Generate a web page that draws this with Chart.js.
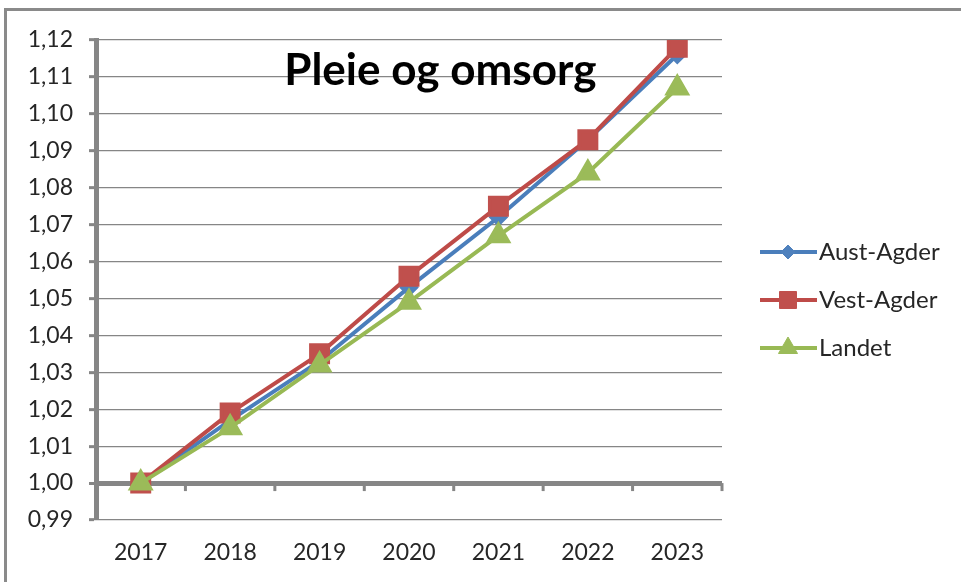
<!DOCTYPE html>
<html>
<head>
<meta charset="utf-8">
<script src="https://cdn.jsdelivr.net/npm/chart.js@4/dist/chart.umd.min.js"></script>
<style>
  html, body { margin: 0; padding: 0; background: #fff; }
  #wrap { position: relative; width: 961px; height: 582px; }
  #frame {
    position: absolute; left: 4px; top: 8px; right: 0; bottom: 0;
    border-top: 3px solid #8a8a8a; border-left: 3px solid #8a8a8a;
    pointer-events: none;
  }
  canvas { position: absolute; left: 0; top: 0; }
</style>
</head>
<body>
<div id="wrap">
  <canvas id="chart" width="961" height="582"></canvas>
  <div id="frame"></div>
</div>
<script>
// data
const years = ["2017", "2018", "2019", "2020", "2021", "2022", "2023"];
const austAgder = [1.000, 1.017, 1.033, 1.053, 1.072, 1.093, 1.116];
const vestAgder = [1.000, 1.019, 1.035, 1.056, 1.075, 1.093, 1.118];
const landet = [1.000, 1.015, 1.032, 1.049, 1.067, 1.084, 1.107];
const chartTitle = "Pleie og omsorg";

const FONT = "Lato, 'Open Sans', sans-serif";
const AXIS_GREY = "#868686";

// x-aksen ligger på 1,00 med små streker mellom kategoriene
const baseAxisPlugin = {
  id: "baseAxis",
  beforeDatasetsDraw(chart) {
    const { ctx, scales } = chart;
    const x = scales.x, y = scales.y;
    const y0 = y.getPixelForValue(1.0);
    const half = (x.getPixelForValue(1) - x.getPixelForValue(0)) / 2;
    ctx.save();
    ctx.strokeStyle = AXIS_GREY;
    ctx.lineWidth = 3;
    for (let i = 0; i < years.length; i++) {
      const px = x.getPixelForValue(i) + half;
      ctx.beginPath();
      ctx.moveTo(px, y0);
      ctx.lineTo(px, y0 + 8);
      ctx.stroke();
    }
    ctx.restore();
  },
};

// tittel inne i plottet + legende med linje og markør
const decorPlugin = {
  id: "decor",
  afterDraw(chart) {
    const { ctx, chartArea } = chart;
    ctx.save();
    ctx.fillStyle = "#000";
    ctx.font = "bold 44px " + FONT;
    ctx.textAlign = "center";
    ctx.textBaseline = "middle";
    const tx = chartArea.left + (chartArea.right - chartArea.left) * 0.55;
    ctx.fillText(chartTitle, tx, chartArea.top + 31);

    const lx = chartArea.right + 38;
    const midY = (chartArea.top + chartArea.bottom) / 2 + 20;
    chart.data.datasets.forEach((ds, i) => {
      const ly = midY + (i - 1) * 48;
      ctx.strokeStyle = ds.borderColor;
      ctx.lineWidth = 4;
      ctx.beginPath();
      ctx.moveTo(lx, ly);
      ctx.lineTo(lx + 57, ly);
      ctx.stroke();
      ctx.fillStyle = ds.pointBackgroundColor;
      ctx.strokeStyle = ds.pointBackgroundColor;
      ctx.lineWidth = 1;
      Chart.helpers.drawPoint(ctx, {
        pointStyle: ds.pointStyle,
        radius: ds.pointRadius,
        borderWidth: 1,
        rotation: 0,
      }, lx + 28, ly);
      ctx.fillStyle = "#262626";
      ctx.font = "24px " + FONT;
      ctx.textAlign = "left";
      ctx.textBaseline = "middle";
      ctx.fillText(ds.label, lx + 59, ly);
    });
    ctx.restore();
  },
};

new Chart(document.getElementById("chart"), {
  type: "line",
  data: {
    labels: years,
    datasets: [
      {
        label: "Aust-Agder",
        data: austAgder,
        borderColor: "#4A7EBB",
        pointBackgroundColor: "#4F81BD",
        pointBorderColor: "#4F81BD",
        pointStyle: "rectRot",
        pointRadius: 7,
        borderWidth: 4,
        order: 3,
      },
      {
        label: "Vest-Agder",
        data: vestAgder,
        borderColor: "#BE4B48",
        pointBackgroundColor: "#C0504D",
        pointBorderColor: "#C0504D",
        pointStyle: "rect",
        pointRadius: 12,
        borderWidth: 4,
        order: 2,
      },
      {
        label: "Landet",
        data: landet,
        borderColor: "#98B954",
        pointBackgroundColor: "#9BBB59",
        pointBorderColor: "#9BBB59",
        pointStyle: "triangle",
        pointRadius: 11,
        borderWidth: 4,
        order: 1,
      },
    ],
  },
  options: {
    responsive: false,
    animation: false,
    layout: { padding: { top: 40, right: 239, bottom: 0, left: 0 } },
    plugins: {
      legend: { display: false },
      title: { display: false },
      tooltip: { enabled: false },
    },
    elements: { line: { tension: 0 } },
    scales: {
      x: {
        offset: true,
        grid: { display: false, drawTicks: false },
        border: { display: false },
        ticks: {
          padding: 19,
          color: "#262626",
          font: { family: FONT, size: 23 },
        },
        afterFit(scale) { scale.height = 62; },
      },
      y: {
        min: 0.99,
        max: 1.12,
        ticks: {
          stepSize: 0.01,
          padding: 16,
          color: "#262626",
          font: { family: FONT, size: 23 },
          callback: (v) => v.toFixed(2).replace(".", ","),
        },
        grid: {
          color: AXIS_GREY,
          lineWidth: (c) => (c.tick && Math.abs(c.tick.value - 1) < 1e-6 ? 5 : 1.3),
          tickLength: 7,
          tickWidth: 3,
          tickColor: AXIS_GREY,
        },
        border: { display: true, color: AXIS_GREY, width: 5 },
        afterFit(scale) { scale.width = 96; },
      },
    },
  },
  plugins: [baseAxisPlugin, decorPlugin],
});
</script>
</body>
</html>
